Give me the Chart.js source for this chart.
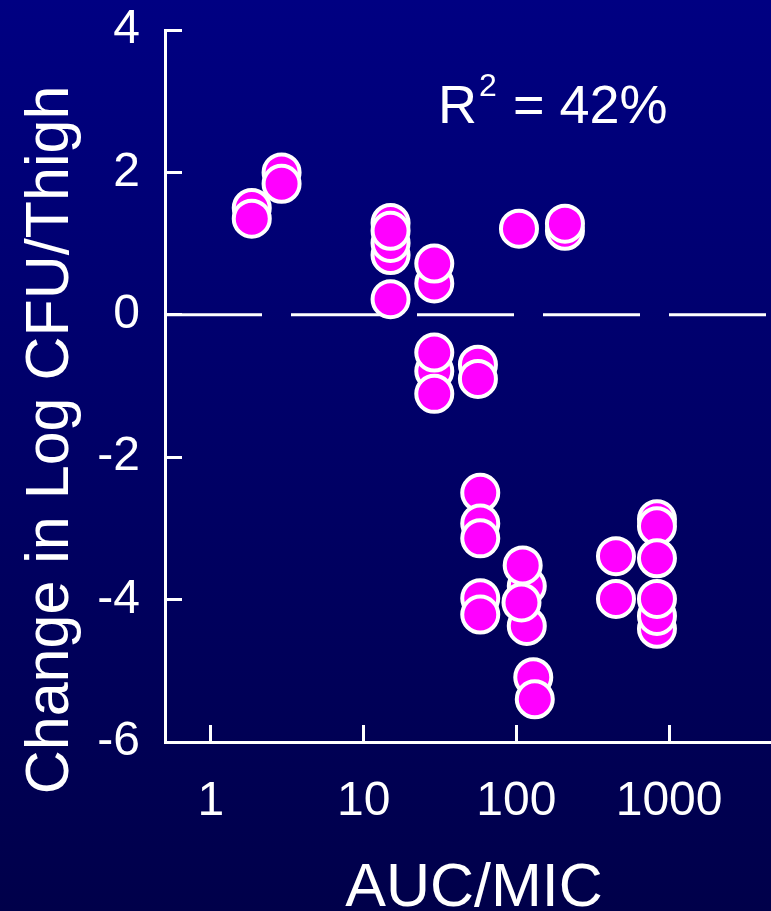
<!DOCTYPE html>
<html>
<head>
<meta charset="utf-8">
<script src="https://cdn.jsdelivr.net/npm/chart.js@4.4.0/dist/chart.umd.min.js"></script>
<style>
  html, body { margin: 0; padding: 0; }
  body { width: 771px; height: 911px; overflow: hidden;
         background: linear-gradient(to bottom, #000082 0%, #00004a 100%); }
  #wrap { position: relative; width: 771px; height: 911px; }
</style>
</head>
<body>
<div id="wrap"><canvas id="c"></canvas></div>
<script>
// ---- data ----
const xValues = [
  1.85, 1.85,
  2.9, 2.9,
  15, 15, 15, 15, 15,
  29, 29, 29, 29, 29,
  56, 56,
  58, 58, 58, 58, 58,
  117, 117, 110, 108, 129, 132,
  104,
  208, 208,
  449, 449,
  833, 833, 833, 833, 833, 833
];
const yValues = [
  1.50, 1.35,
  2.00, 1.84,
  0.84, 1.01, 1.29, 1.18, 0.22,
  0.44, 0.72, -0.79, -0.53, -1.11,
  -0.70, -0.90,
  -2.50, -2.93, -3.14, -3.98, -4.21,
  -3.81, -4.37, -3.52, -4.04, -5.09, -5.40,
  1.21,
  1.18, 1.28,
  -3.39, -3.99,
  -2.87, -2.97, -3.42, -4.41, -4.23, -3.99
];
const xTickValues = [1, 10, 100, 1000];
const xTickLabels = ['1', '10', '100', '1000'];
const yTickValues = [-6, -4, -2, 0, 2, 4];
const yTickLabels = ['-6', '-4', '-2', '0', '2', '4'];
const xRange = [0.5, 4650];
const yRange = [-6, 4];
const referenceLineY = 0;
const xAxisTitle = 'AUC/MIC';
const yAxisTitle = 'Change in Log CFU/Thigh';
const rSquaredParts = ['R', '2', '= 42%'];

// ---- build library structures ----
const points = xValues.map((x, i) => ({ x: x, y: yValues[i] }));
const zeroLine = [{ x: xRange[0], y: referenceLineY }, { x: xRange[1], y: referenceLineY }];

const FONT = '"Liberation Sans", Arial, Helvetica, sans-serif';

const overlayPlugin = {
  id: 'overlayText',
  afterDraw(chart) {
    const ctx = chart.ctx;
    ctx.save();
    ctx.fillStyle = '#ffffff';
    // y axis title
    ctx.save();
    ctx.font = '61px ' + FONT;
    ctx.translate(68, 440);
    ctx.rotate(-Math.PI / 2);
    ctx.textAlign = 'center';
    ctx.textBaseline = 'alphabetic';
    ctx.fillText(yAxisTitle, 0, 0);
    ctx.restore();
    // x axis title
    ctx.font = '61px ' + FONT;
    ctx.textAlign = 'center';
    ctx.textBaseline = 'alphabetic';
    ctx.fillText(xAxisTitle, 474, 906);
    // R^2 annotation
    ctx.textAlign = 'left';
    ctx.font = '54px ' + FONT;
    ctx.fillText(rSquaredParts[0], 438, 123);
    ctx.font = '32px ' + FONT;
    ctx.fillText(rSquaredParts[1], 479, 96);
    ctx.font = '54px ' + FONT;
    ctx.fillText(rSquaredParts[2], 513, 123);
    ctx.restore();
  }
};

new Chart(document.getElementById('c'), {
  type: 'scatter',
  data: {
    datasets: [
      {
        type: 'line',
        data: zeroLine,
        borderColor: '#ffffff',
        borderWidth: 3,
        borderDash: [97, 29],
        pointRadius: 0,
        fill: false,
        tension: 0,
        order: 1
      },
      {
        type: 'scatter',
        data: points,
        backgroundColor: '#ff00ff',
        borderColor: '#ffffff',
        borderWidth: 4,
        pointRadius: 18,
        pointHoverRadius: 18,
        clip: false,
        order: 0
      }
    ]
  },
  options: {
    responsive: true,
    maintainAspectRatio: false,
    animation: false,
    events: [],
    layout: { autoPadding: false, padding: { top: 30, left: 0, right: 0, bottom: 0 } },
    plugins: { legend: { display: false }, tooltip: { enabled: false } },
    scales: {
      x: {
        type: 'logarithmic',
        position: 'bottom',
        min: xRange[0],
        max: xRange[1],
        afterBuildTicks: s => { s.ticks = xTickValues.map(v => ({ value: v })); },
        afterFit: s => { s.height = 169; s.paddingLeft = 0; s.paddingRight = 0; },
        ticks: {
          color: '#ffffff',
          font: { family: FONT, size: 48 },
          padding: 48,
          maxRotation: 0,
          autoSkip: false,
          callback: v => { const i = xTickValues.indexOf(v); return i >= 0 ? xTickLabels[i] : ''; }
        },
        grid: { drawOnChartArea: false, drawTicks: true, tickLength: -17, color: '#ffffff', lineWidth: 3 },
        border: { display: true, color: '#ffffff', width: 3 }
      },
      y: {
        type: 'linear',
        position: 'left',
        min: yRange[0],
        max: yRange[1],
        afterBuildTicks: s => { s.ticks = yTickValues.map(v => ({ value: v })); },
        afterFit: s => { s.width = 165; s.paddingTop = 0; s.paddingBottom = 0; },
        ticks: {
          color: '#ffffff',
          font: { family: FONT, size: 48 },
          padding: 42,
          callback: v => { const i = yTickValues.indexOf(v); return i >= 0 ? yTickLabels[i] : ''; }
        },
        grid: { drawOnChartArea: false, drawTicks: true, tickLength: -17, color: '#ffffff', lineWidth: 3 },
        border: { display: true, color: '#ffffff', width: 3 }
      }
    }
  },
  plugins: [overlayPlugin]
});
</script>
</body>
</html>
